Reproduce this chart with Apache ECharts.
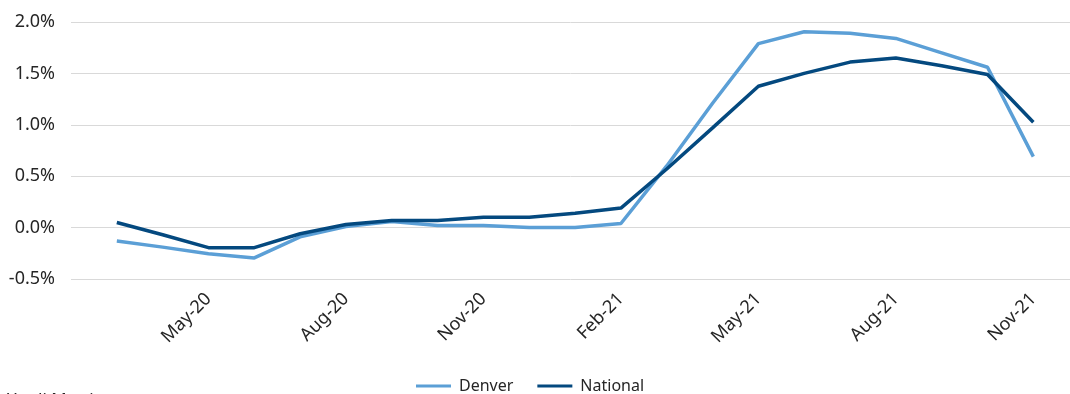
<!DOCTYPE html>
<html>
<head>
<meta charset="utf-8">
<script src="https://cdn.jsdelivr.net/npm/echarts@6/dist/echarts.min.js"></script>
<style>
html,body{margin:0;padding:0;background:#fff;}
#chart{width:1070px;height:394px;}
</style>
</head>
<body>
<div id="chart"></div>
<script>
const months = ['Mar-20','Apr-20','May-20','Jun-20','Jul-20','Aug-20','Sep-20','Oct-20','Nov-20','Dec-20','Jan-21','Feb-21','Mar-21','Apr-21','May-21','Jun-21','Jul-21','Aug-21','Sep-21','Oct-21','Nov-21'];
const denver = [-0.13,-0.19,-0.255,-0.295,-0.09,0.01,0.06,0.02,0.02,0.0,0.0,0.04,0.60,1.21,1.79,1.905,1.89,1.84,1.70,1.56,0.69];
const national = [0.05,-0.07,-0.195,-0.195,-0.06,0.03,0.07,0.07,0.10,0.10,0.14,0.19,0.57,0.97,1.375,1.50,1.61,1.65,1.575,1.49,1.025];
const xTickLabels = ['May-20','Aug-20','Nov-20','Feb-21','May-21','Aug-21','Nov-21'];
const yTicks = [-0.5,0.0,0.5,1.0,1.5,2.0];
const sourceText = 'Yardi Matrix';

const FONT = 'Noto Sans';
const chart = echarts.init(document.getElementById('chart'));
chart.setOption({
  animation: false,
  textStyle: {fontFamily: FONT},
  grid: {left: 71, right: 0, top: 22, bottom: 115, containLabel: false},
  legend: {
    top: 371,
    left: 411,
    icon: 'rect',
    itemWidth: 35,
    itemHeight: 3,
    itemGap: 24,
    textStyle: {fontFamily: FONT, fontSize: 16, color: '#262626', lineHeight: 20, padding: [0, 0, 0, 3]},
    data: ['Denver','National']
  },
  xAxis: {
    type: 'value',
    min: 0,
    max: 21.8,
    interval: 3,
    axisLine: {show: false},
    axisTick: {show: false},
    splitLine: {show: false},
    axisLabel: {
      rotate: 45,
      margin: 17,
      fontSize: 18,
      color: '#262626',
      fontFamily: FONT,
      showMaxLabel: false,
      formatter: function (v) {
        const idx = Math.round(v);
        if (Math.abs(v - idx) > 1e-6 || idx <= 0 || idx % 3 !== 0) return '';
        const lab = months[idx - 1];
        return xTickLabels.indexOf(lab) >= 0 ? lab : '';
      }
    }
  },
  yAxis: {
    type: 'value',
    min: yTicks[0],
    max: yTicks[yTicks.length - 1],
    interval: 0.5,
    axisLine: {show: false},
    axisTick: {show: false},
    splitLine: {lineStyle: {color: '#d9d9d9', width: 1}},
    axisLabel: {
      margin: 16,
      fontSize: 18,
      color: '#262626',
      fontFamily: FONT,
      formatter: function (v) { return v.toFixed(1) + '%'; }
    }
  },
  graphic: [{
    type: 'text',
    left: 7,
    top: 392,
    style: {text: sourceText, fontSize: 17, fontFamily: FONT, fill: '#262626'}
  }],
  series: [
    {
      name: 'Denver',
      type: 'line',
      data: months.map((m, i) => [i + 1, denver[i]]),
      symbol: 'none',
      lineStyle: {color: '#5b9fd6', width: 3.5},
      itemStyle: {color: '#5b9fd6'}
    },
    {
      name: 'National',
      type: 'line',
      data: months.map((m, i) => [i + 1, national[i]]),
      symbol: 'none',
      lineStyle: {color: '#04497f', width: 3.5},
      itemStyle: {color: '#04497f'}
    }
  ]
});
</script>
</body>
</html>
